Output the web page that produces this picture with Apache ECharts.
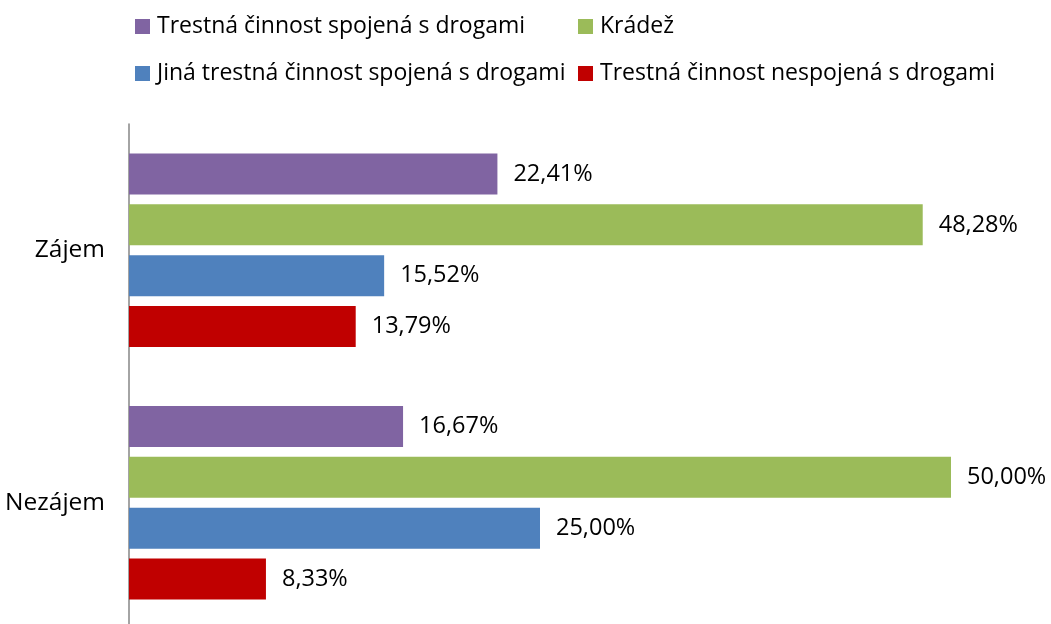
<!DOCTYPE html>
<html>
<head>
<meta charset="utf-8">
<script src="https://cdn.jsdelivr.net/npm/echarts@6/dist/echarts.min.js"></script>
<style>
  html, body { margin: 0; padding: 0; background: #fff; overflow: hidden; }
  #main { width: 1051px; height: 640px; }
</style>
</head>
<body>
<div id="main"></div>
<script>
// data
const categories = ['Zájem', 'Nezájem'];
const seriesNames = [
  'Trestná činnost spojená s drogami',
  'Krádež',
  'Jiná trestná činnost spojená s drogami',
  'Trestná činnost nespojená s drogami'
];
const drugCrime = [22.41, 16.67];
const theft = [48.28, 50.00];
const otherDrugCrime = [15.52, 25.00];
const nonDrugCrime = [13.79, 8.33];

const colors = ['#8064A2', '#9BBB59', '#4F81BD', '#C00000'];
const font = 'Open Sans';

const chart = echarts.init(document.getElementById('main'));

function mkSeries(name, data, color) {
  return {
    name: name,
    type: 'bar',
    data: data,
    barWidth: 41,
    barGap: '24%',
    itemStyle: { color: color },
    label: {
      show: true,
      position: 'right',
      distance: 16,
      color: '#000',
      fontFamily: font,
      fontSize: 23.5,
      formatter: p => p.value.toFixed(2).replace('.', ',') + '%'
    }
  };
}

function mkLegend(name, left, top) {
  return {
    data: [name],
    left: left,
    top: top,
    icon: 'rect',
    itemWidth: 15,
    itemHeight: 15,
    itemGap: 0,
    padding: 0,
    textStyle: { fontFamily: font, fontSize: 23, color: '#000', padding: [0, 0, 0, 2] }
  };
}

chart.setOption({
  animation: false,
  textStyle: { fontFamily: font },
  legend: [
    mkLegend(seriesNames[0], 135, 15),
    mkLegend(seriesNames[1], 578, 15),
    mkLegend(seriesNames[2], 135, 62),
    mkLegend(seriesNames[3], 578, 62)
  ],
  grid: { left: 129, top: 124, width: 822, height: 505 },
  xAxis: {
    type: 'value',
    min: 0,
    max: 50,
    show: false
  },
  yAxis: {
    type: 'category',
    data: categories,
    inverse: true,
    axisLine: { show: true, lineStyle: { color: '#868686', width: 1.5 } },
    axisTick: { show: false },
    axisLabel: { color: '#000', fontFamily: font, fontSize: 24.5, margin: 24 }
  },
  series: [
    mkSeries(seriesNames[0], drugCrime, colors[0]),
    mkSeries(seriesNames[1], theft, colors[1]),
    mkSeries(seriesNames[2], otherDrugCrime, colors[2]),
    mkSeries(seriesNames[3], nonDrugCrime, colors[3])
  ]
});
</script>
</body>
</html>
